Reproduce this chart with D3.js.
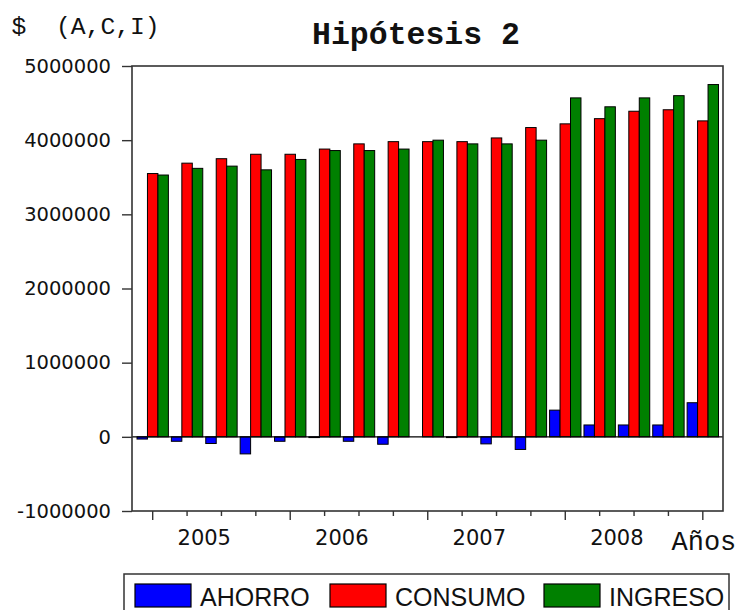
<!DOCTYPE html>
<html>
<head>
<meta charset="utf-8">
<script src="https://cdn.jsdelivr.net/npm/d3@7"></script>
<style>
  body { margin: 0; background: #fff; }
  svg { display: block; }
</style>
</head>
<body>
<div id="chart"></div>
<script>
// datos trimestrales 2005Q1 - 2009Q1
var quarters = ["2005Q1","2005Q2","2005Q3","2005Q4","2006Q1","2006Q2","2006Q3","2006Q4",
                "2007Q1","2007Q2","2007Q3","2007Q4","2008Q1","2008Q2","2008Q3","2008Q4","2009Q1"];
var years = ["2005", "2006", "2007", "2008"];
var series = ["AHORRO", "CONSUMO", "INGRESO"];
var ahorro  = [-30000, -60000, -90000, -230000, -60000, -10000, -60000, -100000,
               0, -10000, -95000, -170000, 360000, 160000, 160000, 160000, 460000];
var consumo = [3550000, 3690000, 3750000, 3810000, 3810000, 3880000, 3950000, 3980000,
               3980000, 3980000, 4030000, 4170000, 4220000, 4290000, 4390000, 4410000, 4260000];
var ingreso = [3530000, 3620000, 3650000, 3600000, 3740000, 3860000, 3860000, 3880000,
               4000000, 3950000, 3950000, 4000000, 4570000, 4450000, 4570000, 4600000, 4750000];
var yTicks = [-1000000, 0, 1000000, 2000000, 3000000, 4000000, 5000000];
var colors = ["#0000ff", "#ff0000", "#008000"];

var values = { AHORRO: ahorro, CONSUMO: consumo, INGRESO: ingreso };

var W = 739, H = 610;
var pLeft = 132, pRight = 723, pTop = 66, pBottom = 511;

var svg = d3.select("#chart").append("svg")
    .attr("width", W)
    .attr("height", H);

var y = d3.scaleLinear()
    .domain([-1000000, 5000000])
    .range([pBottom, pTop]);

var x = d3.scaleBand()
    .domain(quarters)
    .range([135.5, 720])
    .padding(0);

var xs = d3.scaleBand()
    .domain(series)
    .range([1.5, x.bandwidth() - 1.5]);

var color = d3.scaleOrdinal().domain(series).range(colors);

// barras
var groups = svg.selectAll(".grp")
    .data(quarters)
    .enter().append("g")
    .attr("class", "grp")
    .attr("transform", d => "translate(" + x(d) + ",0)");

groups.selectAll("rect")
    .data((q, i) => series.map(s => ({ s: s, v: values[s][i] })))
    .enter().append("rect")
    .attr("x", d => xs(d.s))
    .attr("width", xs.bandwidth())
    .attr("y", d => y(Math.max(0, d.v)))
    .attr("height", d => Math.abs(y(d.v) - y(0)))
    .attr("fill", d => color(d.s))
    .attr("stroke", "#000")
    .attr("stroke-width", 1);

// linea del cero
svg.append("line")
    .attr("x1", pLeft).attr("x2", pRight)
    .attr("y1", y(0)).attr("y2", y(0))
    .attr("stroke", "#000")
    .attr("stroke-width", 1.2);

// marco
svg.append("rect")
    .attr("x", pLeft).attr("y", pTop)
    .attr("width", pRight - pLeft).attr("height", pBottom - pTop)
    .attr("fill", "none")
    .attr("stroke", "#333")
    .attr("stroke-width", 1.6);

// eje Y (guion normal en vez del signo menos)
var fmt = d => String(Math.round(d));
var yAxis = svg.append("g")
    .attr("transform", "translate(" + pLeft + ",0)")
    .call(d3.axisLeft(y).tickValues(yTicks).tickSize(10).tickPadding(11).tickFormat(fmt));
yAxis.select(".domain").remove();
yAxis.selectAll("line").attr("stroke", "#333").attr("stroke-width", 1.4);
yAxis.selectAll("text")
    .attr("fill", "#111")
    .style("font-family", "'DejaVu Sans', sans-serif")
    .style("font-size", "19.5px");

// eje X
var xAxis = svg.append("g")
    .attr("transform", "translate(0," + pBottom + ")")
    .call(d3.axisBottom(x).tickSize(5).tickFormat(""));
xAxis.select(".domain").remove();
xAxis.selectAll(".tick line")
    .attr("stroke", "#333")
    .attr("stroke-width", 1.4)
    .attr("y2", d => d.slice(4) === "Q1" ? 9 : 5);

svg.selectAll(".year")
    .data(years)
    .enter().append("text")
    .attr("class", "year")
    .attr("x", yr => d3.mean(quarters.filter(q => q.slice(0, 4) === yr), q => x(q) + x.bandwidth() / 2))
    .attr("y", 545)
    .attr("text-anchor", "middle")
    .attr("fill", "#111")
    .style("font-family", "'DejaVu Sans', sans-serif")
    .style("font-size", "21px")
    .text(d => d);

svg.append("text")
    .attr("x", 671.5).attr("y", 550)
    .attr("fill", "#111")
    .style("font-family", "'Liberation Mono', monospace")
    .style("font-size", "27px")
    .text("Años");

// titulos
svg.append("text")
    .attr("x", 11.5).attr("y", 34)
    .attr("fill", "#111")
    .style("font-family", "'Liberation Mono', monospace")
    .style("font-size", "24.7px")
    .style("white-space", "pre")
    .text("$  (A,C,I)");

svg.append("text")
    .attr("x", 416).attr("y", 44)
    .attr("text-anchor", "middle")
    .attr("fill", "#111")
    .style("font-family", "'Liberation Mono', monospace")
    .style("font-weight", "bold")
    .style("font-size", "31.5px")
    .text("Hipótesis 2");

// leyenda
var legend = svg.append("g");
legend.append("rect")
    .attr("x", 124).attr("y", 574)
    .attr("width", 605).attr("height", 60)
    .attr("fill", "#fff")
    .attr("stroke", "#333")
    .attr("stroke-width", 1.5);

var legX = [135, 330, 544];
var item = legend.selectAll(".item")
    .data(series)
    .enter().append("g")
    .attr("class", "item")
    .attr("transform", (d, i) => "translate(" + legX[i] + ",584)");
item.append("rect")
    .attr("width", 56).attr("height", 23)
    .attr("fill", d => color(d))
    .attr("stroke", "#000")
    .attr("stroke-width", 1.2);
item.append("text")
    .attr("x", 65).attr("y", 22)
    .attr("fill", "#111")
    .style("font-family", "'Liberation Sans', Arial, sans-serif")
    .style("font-size", "25px")
    .text(d => d);
</script>
</body>
</html>
